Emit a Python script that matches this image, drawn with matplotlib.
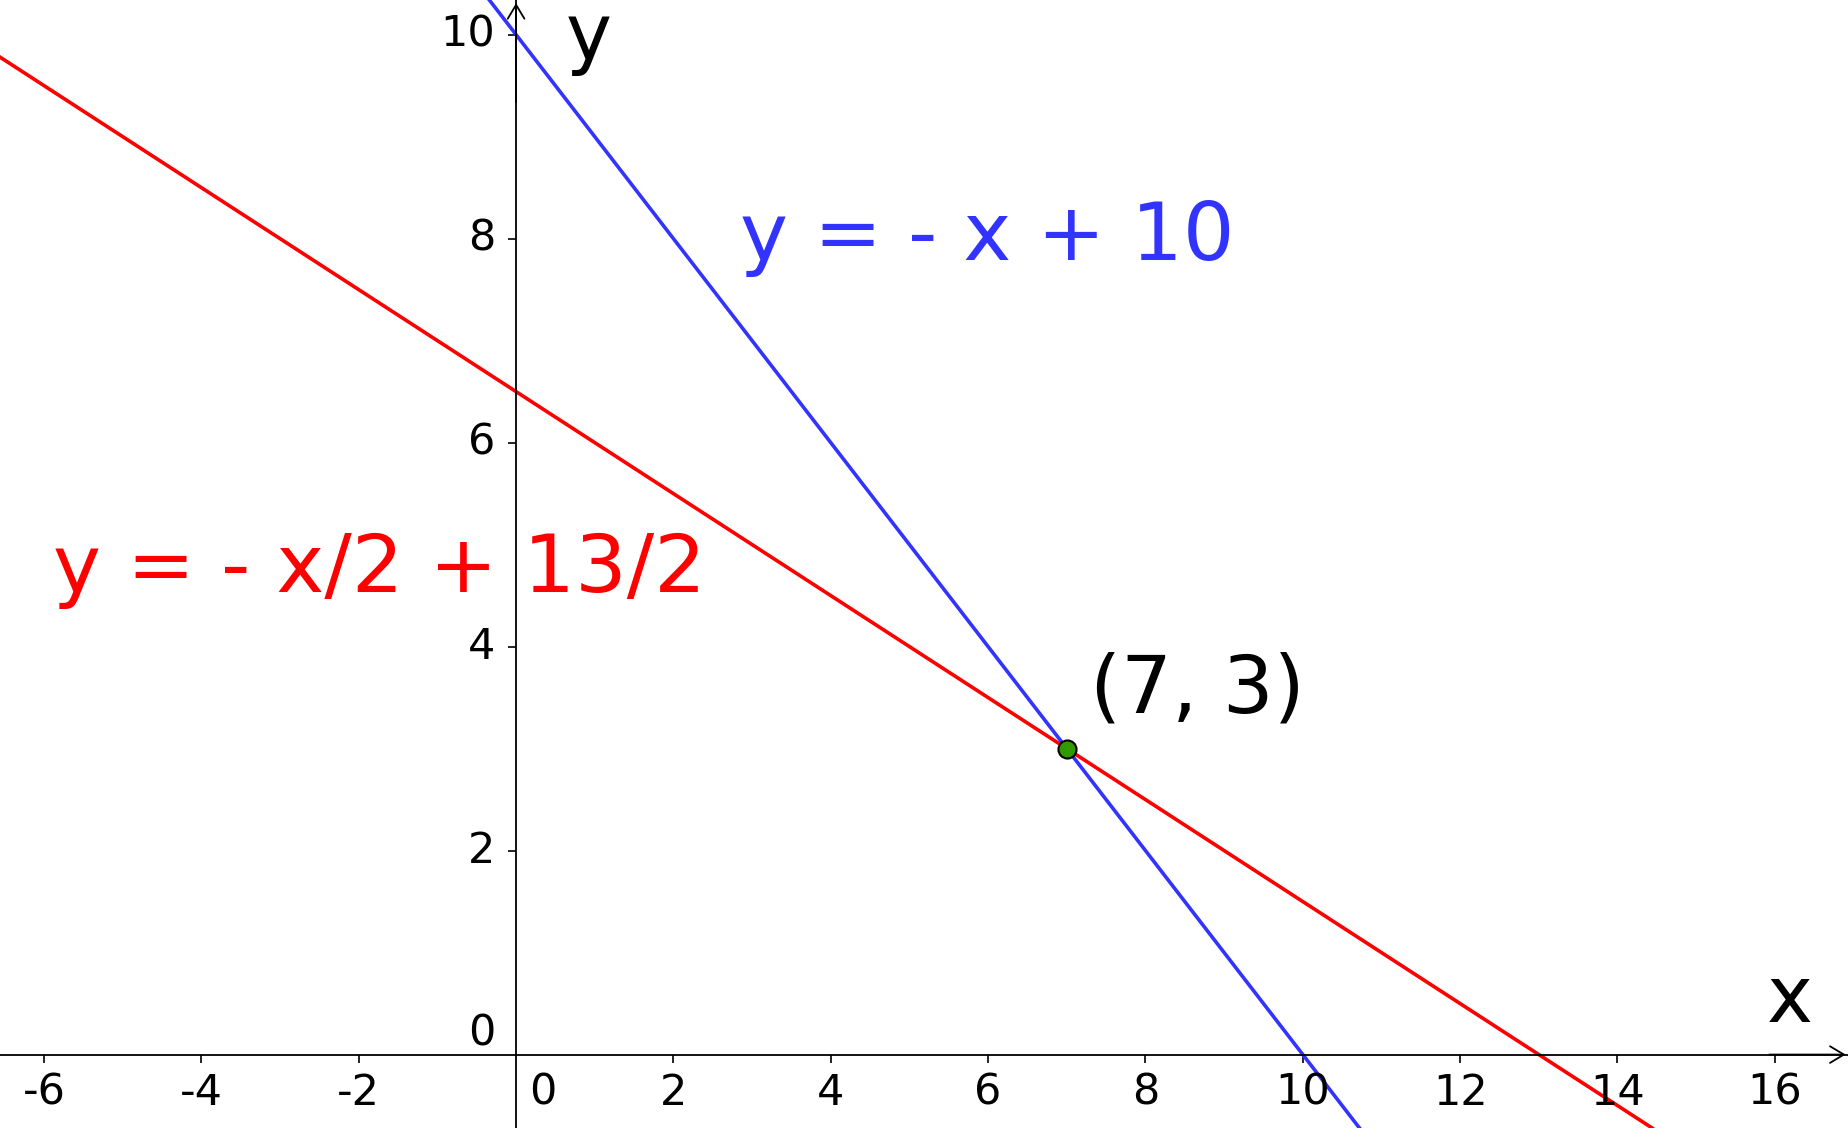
# Two lines crossing at (7, 3), GeoGebra style

import matplotlib.pyplot as plt
import numpy as np

# view window
x_min, x_max = -6.56, 16.93
y_min, y_max = -0.72, 10.34

x_ticks = [-6, -4, -2, 2, 4, 6, 8, 10, 12, 14, 16]
y_ticks = [2, 4, 6, 8, 10]

# each line given by two points
blue_pts = [(0, 10), (10, 0)]
red_pts = [(0, 6.5), (13, 0)]
point = (7, 3)

blue_label = 'y = - x + 10'
red_label = 'y = - x/2 + 13/2'
point_label = '(7, 3)'

BLUE = '#3333ff'
RED = '#ff0000'
GREEN = '#339900'

fig = plt.figure(figsize=(18.48, 11.28), dpi=100)
ax = fig.add_axes([0, 0, 1, 1])
ax.set_xlim(x_min, x_max)
ax.set_ylim(y_min, y_max)

# axes through the origin
for side in ['top', 'right']:
    ax.spines[side].set_visible(False)
ax.spines['bottom'].set_position(('data', 0))
ax.spines['left'].set_position(('data', 0))
for side in ['bottom', 'left']:
    ax.spines[side].set_linewidth(1.3)
ax.set_xticks(x_ticks)
ax.set_yticks(y_ticks)
ax.tick_params(direction='out', length=6, width=1.2, labelbottom=False, labelleft=False)

# arrow heads
arrow = dict(arrowstyle='->,head_length=1.0,head_width=0.6', lw=1.3, color='black',
             shrinkA=0, shrinkB=0, mutation_scale=10)
ax.annotate('', xy=(x_max - 0.03, 0), xytext=(x_max - 1, 0), arrowprops=arrow)
ax.annotate('', xy=(0, y_max - 0.03), xytext=(0, y_max - 1), arrowprops=arrow)

# tick labels
for t in x_ticks:
    ax.annotate(str(t), (t, 0), xytext=(0, -38), textcoords='offset pixels',
                ha='center', va='center', fontsize=31)
ax.annotate('0', (0, 0), xytext=(27, -38), textcoords='offset pixels',
            ha='center', va='center', fontsize=31)
for t in y_ticks:
    ax.annotate(str(t), (0, t), xytext=(-21, 0), textcoords='offset pixels',
                ha='right', va='center', fontsize=31)
ax.annotate('0', (0, 0), xytext=(-21, 21), textcoords='offset pixels',
            ha='right', va='center', fontsize=31)

# lines
ax.axline(blue_pts[0], blue_pts[1], color=BLUE, lw=2.6)
ax.axline(red_pts[0], red_pts[1], color=RED, lw=2.6)
ax.plot(point[0], point[1], 'o', ms=13, mfc=GREEN, mec='black', mew=1.5, zorder=5)

# labels
ax.text(2.84, 7.79, blue_label, color=BLUE, fontsize=58.5, ha='left', va='baseline')
ax.text(-5.88, 4.54, red_label, color=RED, fontsize=58.5, ha='left', va='baseline')
ax.text(7.29, 3.35, point_label, color='black', fontsize=57.5, ha='left', va='baseline')
ax.text(15.9, 0.32, 'x', color='black', fontsize=56, ha='left', va='baseline')
ax.text(0.63, 9.75, 'y', color='black', fontsize=56, ha='left', va='baseline')

plt.savefig('out.png')
plt.close()
